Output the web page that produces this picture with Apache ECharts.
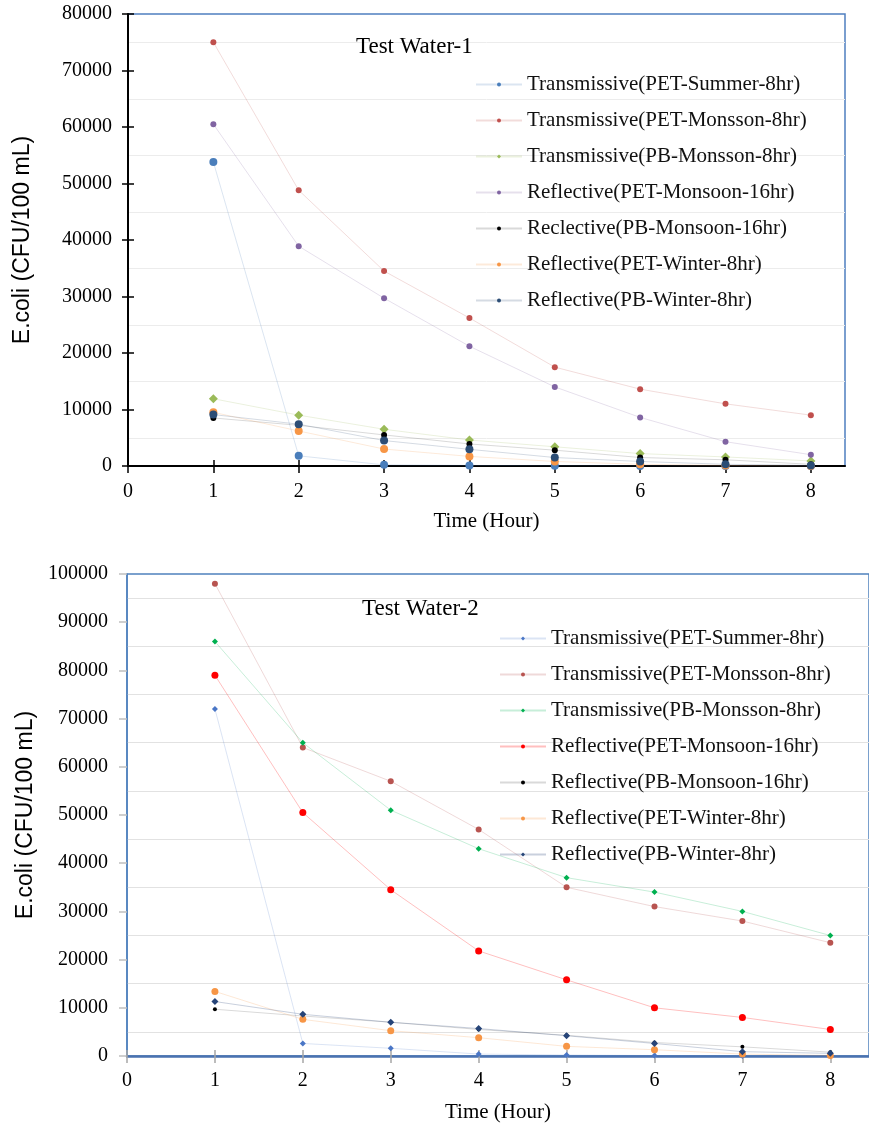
<!DOCTYPE html>
<html><head><meta charset="utf-8">
<script src="https://cdn.jsdelivr.net/npm/echarts@6/dist/echarts.min.js"></script>
<style>
html,body{margin:0;padding:0;background:#fff;width:869px;height:1130px;overflow:hidden}
#c1{position:absolute;left:0;top:0;width:869px;height:548px}
#c2{position:absolute;left:0;top:548px;width:869px;height:582px}
</style>
</head><body><div id="c1"></div><div id="c2"></div>
<script>
// ---------- data ----------
const hours = [1, 2, 3, 4, 5, 6, 7, 8];
const xTickValues = [0, 1, 2, 3, 4, 5, 6, 7, 8];

// Test Water-1
const names1 = [
  'Transmissive(PET-Summer-8hr)',
  'Transmissive(PET-Monsson-8hr)',
  'Transmissive(PB-Monsson-8hr)',
  'Reflective(PET-Monsoon-16hr)',
  'Reclective(PB-Monsoon-16hr)',
  'Reflective(PET-Winter-8hr)',
  'Reflective(PB-Winter-8hr)'
];
const w1PetSummer   = [53800, 1800, 200, 100, 50, 20, 10, 0];
const w1PetMonsoon  = [75000, 48800, 34500, 26200, 17500, 13600, 11000, 9000];
const w1PbMonsoon   = [11900, 9000, 6500, 4600, 3400, 2200, 1600, 900];
const w1PetMon16    = [60500, 38900, 29700, 21200, 14000, 8600, 4300, 2000];
const w1PbMon16     = [8500, 7200, 5500, 3900, 2800, 1500, 1100, 300];
const w1PetWinter   = [9500, 6200, 3000, 1700, 800, 300, 100, 0];
const w1PbWinter    = [9100, 7400, 4500, 2950, 1500, 800, 300, 100];

// Test Water-2
const names2 = [
  'Transmissive(PET-Summer-8hr)',
  'Transmissive(PET-Monsson-8hr)',
  'Transmissive(PB-Monsson-8hr)',
  'Reflective(PET-Monsoon-16hr)',
  'Reflective(PB-Monsoon-16hr)',
  'Reflective(PET-Winter-8hr)',
  'Reflective(PB-Winter-8hr)'
];
const w2PetSummer   = [72000, 2600, 1600, 400, 200, 100, 0, 0];
const w2PetMonsoon  = [98000, 64000, 57000, 47000, 35000, 31000, 28000, 23500];
const w2PbMonsoon   = [86000, 65000, 51000, 43000, 37000, 34000, 30000, 25000];
const w2PetMon16    = [79000, 50500, 34500, 21800, 15800, 10000, 8000, 5500];
const w2PbMon16     = [9700, 8300, 7000, 5500, 4300, 2800, 1900, 800];
const w2PetWinter   = [13400, 7600, 5250, 3800, 2000, 1300, 400, 100];
const w2PbWinter    = [11300, 8650, 7000, 5700, 4200, 2600, 900, 550];

// ---------- helpers ----------
const SERIF = '"Liberation Serif","Times New Roman",serif';
const SANS = '"Liberation Sans",Arial,sans-serif';

function mk(name, values, color, symbol, size, lineOpacity) {
  return {
    type: 'line', name: name,
    data: values.map((v, i) => [hours[i], v]),
    symbol: symbol, symbolSize: size, showSymbol: true,
    itemStyle: { color: color },
    lineStyle: { color: color, width: 1, opacity: lineOpacity },
    emphasis: { disabled: true },
    animation: false
  };
}

function buildOption(c) {
  return {
    animation: false,
    title: {
      text: c.title, left: c.titleLeft, top: c.titleTop,
      textStyle: { fontFamily: SERIF, fontSize: 23, fontWeight: 'normal', color: '#000' }
    },
    legend: {
      orient: 'vertical', left: c.legendLeft, top: c.legendTop,
      itemWidth: 46, itemHeight: 5, itemGap: 15, selectedMode: false,
      textStyle: { fontFamily: SERIF, fontSize: 21, lineHeight: 20, color: '#111' },
      data: c.names
    },
    grid: {
      left: c.gridLeft, top: c.gridTop, width: c.gridWidth, height: c.gridHeight,
      show: true, borderColor: c.borderColor, borderWidth: 1.5, backgroundColor: 'transparent'
    },
    xAxis: [{
      type: 'value', min: 0, max: c.xMax, interval: 1, position: 'bottom',
      axisLine: { show: true, onZero: false, lineStyle: { color: c.xAxisColor, width: c.xAxisWidth } },
      axisTick: { show: true, inside: false, length: 7, customValues: xTickValues,
                  lineStyle: { color: c.xTickColor, width: 1.5 } },
      axisLabel: { customValues: xTickValues, fontFamily: SERIF, fontSize: 20, color: '#000', margin: c.xLabelMargin },
      splitLine: { show: false },
      name: 'Time (Hour)', nameLocation: 'middle', nameGap: c.xNameGap,
      nameTextStyle: { fontFamily: SERIF, fontSize: 21, color: '#000' }
    }, {
      type: 'value', min: 0, max: c.xMax, interval: 1, position: 'bottom',
      axisLine: { show: false, onZero: false },
      axisTick: { show: true, inside: true, length: 6, customValues: xTickValues,
                  lineStyle: { color: c.xTickColor, width: 1.5 } },
      axisLabel: { show: false }, splitLine: { show: false }
    }],
    yAxis: [{
      type: 'value', min: 0, max: c.yMax, interval: 10000, position: 'left',
      axisLine: { show: true, onZero: false, lineStyle: { color: c.yAxisColor, width: c.yAxisWidth } },
      axisTick: { show: true, inside: false, length: c.yTickLen, lineStyle: { color: c.yTickColor, width: 1.5 } },
      axisLabel: { fontFamily: SERIF, fontSize: 20, color: '#000', margin: c.yLabelMargin,
                   formatter: v => String(v) },
      splitLine: { show: false },
      minorTick: { show: false, splitNumber: 2 },
      minorSplitLine: { show: true, lineStyle: { color: c.gridColor, width: 1 } },
      name: 'E.coli (CFU/100 mL)', nameLocation: 'middle', nameGap: c.yNameGap,
      nameTextStyle: { fontFamily: SANS, fontSize: 23, color: '#000' }
    }, {
      type: 'value', min: 0, max: c.yMax, interval: 10000, position: 'left',
      axisLine: { show: false, onZero: false },
      axisTick: { show: c.yCross, inside: true, length: 6, lineStyle: { color: c.yTickColor, width: 1.5 } },
      axisLabel: { show: false }, splitLine: { show: false }
    }],
    series: c.series
  };
}

// ---------- chart 1 ----------
const chart1 = echarts.init(document.getElementById('c1'), null, { renderer: 'canvas' });
chart1.setOption(buildOption({
  title: 'Test Water-1', titleLeft: 351, titleTop: 30,
  names: names1, legendLeft: 470, legendTop: 69,
  gridLeft: 128, gridTop: 14, gridWidth: 717, gridHeight: 452, xMax: 8.4,
  borderColor: '#4f7fc0',
  xAxisColor: '#000', xAxisWidth: 2, xTickColor: '#000', xLabelMargin: 16, xNameGap: 45,
  yAxisColor: '#000', yAxisWidth: 2, yTickColor: '#000', yTickLen: 6, yCross: true, yLabelMargin: 16,
  yNameGap: 94, yMax: 80000, gridColor: '#ececec',
  series: [
    mk(names1[0], w1PetSummer, '#4a7ebb', 'circle', 8, 0.2),
    mk(names1[1], w1PetMonsoon, '#c0504d', 'circle', 6, 0.2),
    mk(names1[2], w1PbMonsoon, '#9bbb59', 'diamond', 9, 0.2),
    mk(names1[3], w1PetMon16, '#8064a2', 'circle', 6, 0.2),
    mk(names1[4], w1PbMon16, '#000000', 'circle', 6, 0.15),
    mk(names1[5], w1PetWinter, '#f79646', 'circle', 8, 0.2),
    mk(names1[6], w1PbWinter, '#2c4d75', 'circle', 8, 0.2)
  ]
}));

// ---------- chart 2 ----------
const chart2 = echarts.init(document.getElementById('c2'), null, { renderer: 'canvas' });
chart2.setOption(buildOption({
  title: 'Test Water-2', titleLeft: 357, titleTop: 44,
  names: names2, legendLeft: 494, legendTop: 75,
  gridLeft: 127, gridTop: 26, gridWidth: 748, gridHeight: 482, xMax: 8.44,
  borderColor: '#4f81bd',
  xAxisColor: '#4a72b0', xAxisWidth: 2.5, xTickColor: '#a6a6a6', xLabelMargin: 15, xNameGap: 46,
  yAxisColor: '#4f81bd', yAxisWidth: 1.5, yTickColor: '#c0c0c0', yTickLen: 8, yCross: false, yLabelMargin: 19,
  yNameGap: 82, yMax: 100000, gridColor: '#e2e2e2',
  series: [
    mk(names2[0], w2PetSummer, '#4a76c6', 'diamond', 6, 0.2),
    mk(names2[1], w2PetMonsoon, '#b85450', 'circle', 6, 0.22),
    mk(names2[2], w2PbMonsoon, '#00b050', 'diamond', 6, 0.22),
    mk(names2[3], w2PetMon16, '#ff0000', 'circle', 7, 0.25),
    mk(names2[4], w2PbMon16, '#000000', 'circle', 4, 0.15),
    mk(names2[5], w2PetWinter, '#f79646', 'circle', 7, 0.22),
    mk(names2[6], w2PbWinter, '#264478', 'diamond', 7, 0.25)
  ]
}));
</script>
</body></html>
